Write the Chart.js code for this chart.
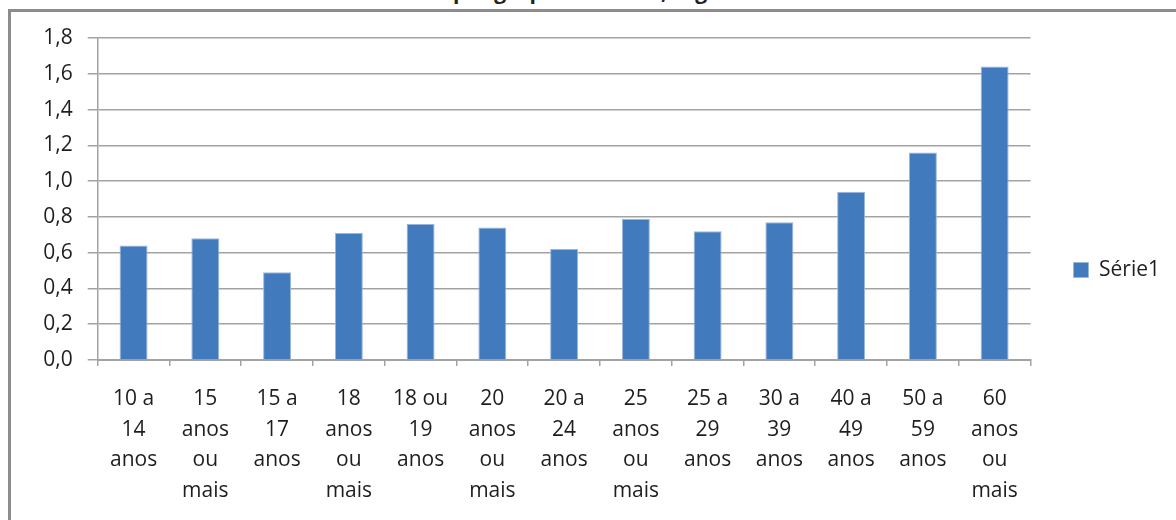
<!DOCTYPE html>
<html>
<head>
<meta charset="utf-8">
<script src="https://cdn.jsdelivr.net/npm/chart.js@4.4.1/dist/chart.umd.min.js"></script>
<style>
  body { margin: 0; background: #fff; overflow: hidden; }
  #wrap { position: relative; width: 1176px; height: 520px; overflow: hidden; }
  #frame {
    position: absolute; left: 8px; top: 9px; width: 1300px; height: 600px;
    border: 3px solid #8c8c8c; box-sizing: border-box;
  }
  #title {
    position: absolute; left: 0; width: 1290px; top: -23px; text-align: center;
    font: bold 21px "Open Sans", sans-serif; color: #222; white-space: nowrap;
  }
  canvas { position: absolute; left: 0; top: 0; }
</style>
</head>
<body>
<div id="wrap">
  <div id="title">Razão por grupos de idade, segundo a faixa etária</div>
  <div id="frame"></div>
  <canvas id="chart" width="1176" height="520"></canvas>
</div>
<script>
// Categories (multi-line labels, as wrapped in the original)
const categories = [
  ["10 a", "14", "anos"],
  ["15", "anos", "ou", "mais"],
  ["15 a", "17", "anos"],
  ["18", "anos", "ou", "mais"],
  ["18 ou", "19", "anos"],
  ["20", "anos", "ou", "mais"],
  ["20 a", "24", "anos"],
  ["25", "anos", "ou", "mais"],
  ["25 a", "29", "anos"],
  ["30 a", "39", "anos"],
  ["40 a", "49", "anos"],
  ["50 a", "59", "anos"],
  ["60", "anos", "ou", "mais"],
];
// Series values
const serie1 = [0.64, 0.68, 0.49, 0.71, 0.76, 0.74, 0.62, 0.79, 0.72, 0.77, 0.94, 1.16, 1.64];
const seriesName = "Série1";
// Value axis
const yMin = 0;
const yMax = 1.8;
const yStep = 0.2;

const font = { family: "'Open Sans', sans-serif", size: 21 };
const textColor = "#1e1e1e";
const gridColor = "#a3a3a3";

new Chart(document.getElementById("chart"), {
  type: "bar",
  data: {
    labels: categories,
    datasets: [
      {
        label: seriesName,
        data: serie1,
        backgroundColor: "#427bbd",
        borderColor: "#9bb7dc",
        borderWidth: 1,
        barPercentage: 0.39,
        categoryPercentage: 1,
      },
    ],
  },
  options: {
    responsive: false,
    animation: false,
    layout: { padding: { left: 0, top: 38, right: 6, bottom: 18 } },
    plugins: {
      tooltip: { enabled: false },
      legend: {
        position: "right",
        labels: {
          color: textColor,
          font: { family: font.family, size: 21 },
          boxWidth: 15,
          boxHeight: 15,
          padding: 43,
        },
      },
    },
    scales: {
      x: {
        // x axis box ends above the canvas bottom; its labels still draw below
        afterFit: (s) => { s.height = 142; },
        grid: {
          offset: true,
          drawOnChartArea: false,
          color: gridColor,
          lineWidth: 1.5,
          tickLength: 6,
        },
        border: { color: gridColor, width: 2 },
        ticks: {
          color: textColor,
          font: { family: font.family, size: 21, lineHeight: 1.45 },
          maxRotation: 0,
          autoSkip: false,
          padding: 18,
        },
      },
      y: {
        min: yMin,
        max: yMax,
        afterFit: (s) => { s.width = 97.7; },
        grid: { color: gridColor, lineWidth: 1.5, tickLength: 10 },
        border: { color: gridColor, width: 1.5 },
        ticks: {
          stepSize: yStep,
          color: textColor,
          font: font,
          padding: 15,
          callback: (v) => v.toFixed(1).replace(".", ","),
        },
      },
    },
  },
});
</script>
</body>
</html>
